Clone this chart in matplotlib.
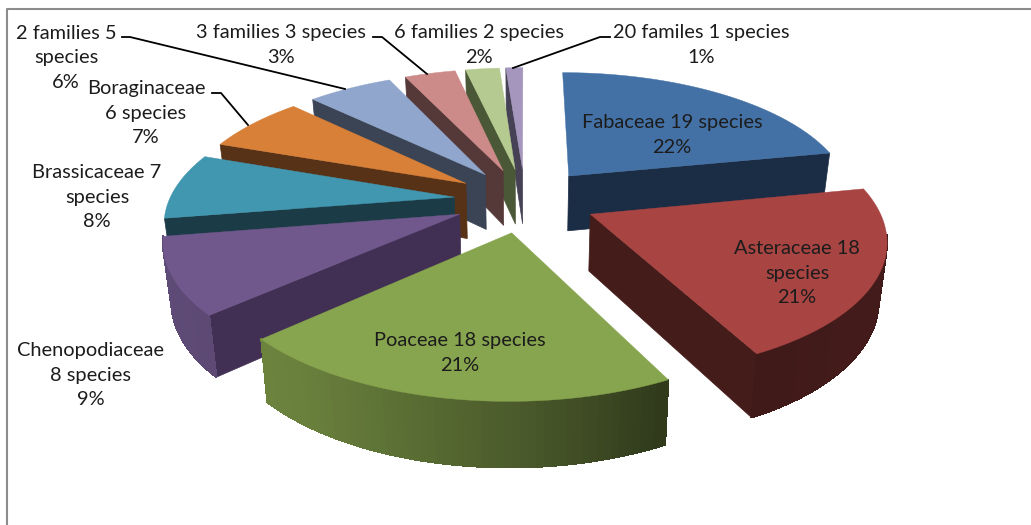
# Exploded 3D pie of species per plant family

import numpy as np
import matplotlib.pyplot as plt
from matplotlib.collections import PolyCollection

# Chart data
species = [19, 18, 18, 8, 7, 6, 5, 3, 2, 1]
names = ["Fabaceae 19 species", "Asteraceae 18\nspecies", "Poaceae 18 species",
         "Chenopodiaceae\n8 species", "Brassicaceae 7\nspecies", "Boraginaceae\n6 species",
         "2 families 5\nspecies", "3 families 3 species", "6 families 2 species",
         "20 familes 1 species"]

# Slice colours
top_colors = ["#4471a5", "#a84442", "#87a44e", "#70588c", "#4196b0",
              "#d98038", "#90a6cc", "#cc8b89", "#b5ca91", "#a596bd"]
side_colors = ["#1b2d44", "#441c19", "#445228", "#413053", "#1b3c46",
               "#583216", "#3a4455", "#553838", "#4b5837", "#464155"]

# Label centres and leader lines, in pixels
label_pos = [(672, 134), (797, 272), (460, 352), (91, 374), (97, 196),
             (146, 112), (66, 57), (281, 44), (479, 44), (701, 44)]
leaders = [[(122, 37), (130, 37), (345, 89)],
           [(212, 93), (221, 93), (248, 125)],
           [(373, 37), (382, 37), (427, 74)],
           [(610, 37), (600, 37), (513, 68)]]

# Projection settings
cx, cy = 525, 200
scale_x, scale_y = 285, 128
persp = 0.167
explode = 0.25
depth = 56
shrink = 0.977


def project(X, Y):
    w = 1 + persp * Y
    return cx + scale_x * X / w, cy - scale_y * Y / w


def bottom(X, Y):
    sx, sy = project(X, Y)
    w = 1 + persp * Y
    return cx + (sx - cx) * shrink, cy + (sy - cy) * shrink + depth / w


def wall_shade(x):
    # outer walls get darker toward the right
    return np.interp(x, [160, 300, 520, 660, 890], [0.85, 0.78, 0.55, 0.36, 0.40])


def tint(color, f):
    rgb = np.array(plt.matplotlib.colors.to_rgb(color))
    return tuple(rgb * f)


fig = plt.figure(figsize=(10.31, 5.25), dpi=100)
ax = fig.add_axes([0, 0, 1, 1])
ax.set_xlim(0, 1031)
ax.set_ylim(525, 0)
ax.axis("off")

# Frame, only left and top are visible
ax.plot([7, 7, 1031], [525, 9, 9], color="#8c8c8c", lw=1.5)

total = sum(species)
edges = np.cumsum([0] + species) / total * 2 * np.pi

# back slices first
order = np.argsort([-np.cos((edges[i] + edges[i + 1]) / 2) for i in range(len(species))])

for i in order:
    t0, t1 = edges[i], edges[i + 1]
    mid = (t0 + t1) / 2
    ox, oy = explode * np.sin(mid), explode * np.cos(mid)
    t = np.linspace(t0, t1, 60)
    X = ox + np.sin(t)
    Y = oy + np.cos(t)

    # radial walls facing the viewer
    for ang, facing in [(t0, np.sin(t0) < -1e-6), (t1, np.sin(t1) > 1e-6)]:
        if facing:
            ex, ey = ox + np.sin(ang), oy + np.cos(ang)
            quad = [project(ox, oy), project(ex, ey), bottom(ex, ey), bottom(ox, oy)]
            ax.fill(*zip(*quad), color=side_colors[i], lw=0.5, zorder=2)

    # curved outer wall, split in strips for the shading
    strips, strip_colors = [], []
    for k in range(len(t) - 1):
        if np.cos(t[k]) < -0.17 or np.cos(t[k + 1]) < -0.17:
            a, b = project(X[k], Y[k]), project(X[k + 1], Y[k + 1])
            c, d = bottom(X[k + 1], Y[k + 1]), bottom(X[k], Y[k])
            strips.append([a, b, c, d])
            strip_colors.append(tint(top_colors[i], wall_shade((a[0] + b[0]) / 2)))
    if strips:
        ax.add_collection(PolyCollection(strips, facecolors=strip_colors, edgecolors="face",
                                         linewidths=0.7, antialiaseds=False, zorder=2))

    # top face
    px, py = project(np.r_[ox, X], np.r_[oy, Y])
    ax.fill(px, py, color=top_colors[i], lw=0.3, zorder=2)

# Leader lines
for line in leaders:
    ax.plot(*zip(*line), color="black", lw=1.3, zorder=3)

# Labels with the share of all species
for name, n, (x, y) in zip(names, species, label_pos):
    ax.text(x, y + 1, f"{name}\n{round(n / total * 100)}%", ha="center", va="center",
            family="Lato", fontsize=14.4, linespacing=1.56, color="#1c1c1c", zorder=4)

fig.savefig("out.png", dpi=100)
